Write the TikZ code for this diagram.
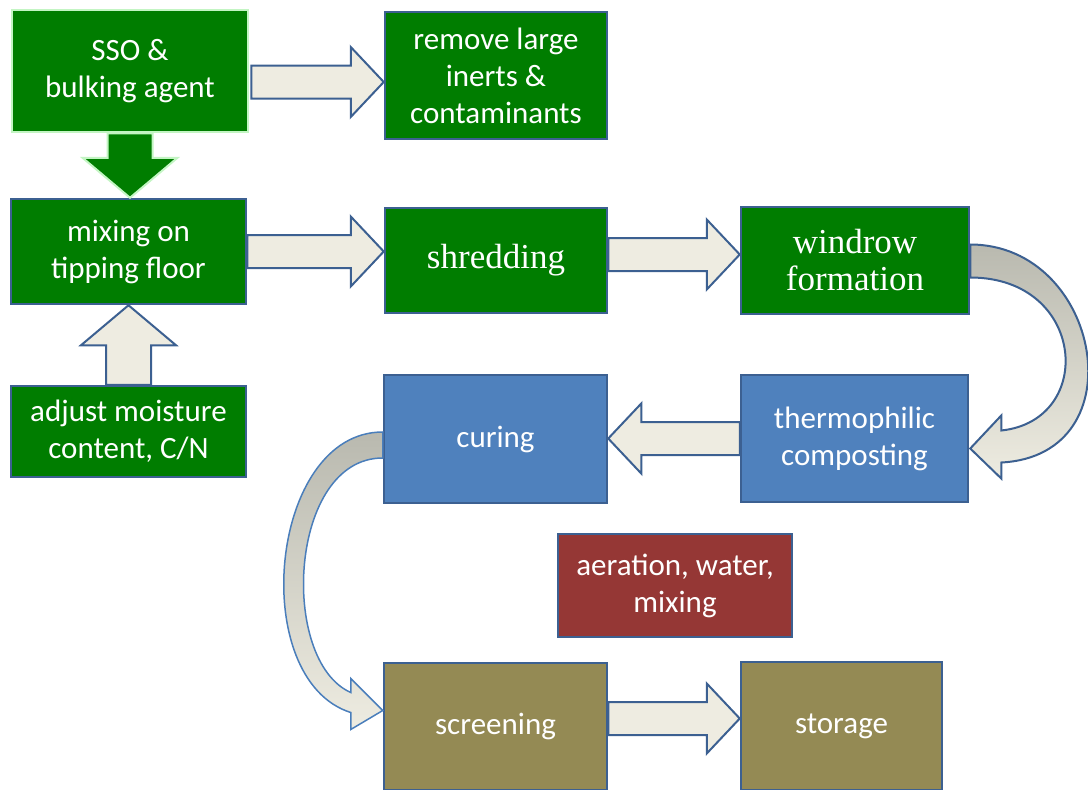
\documentclass[tikz,border=0pt]{standalone}
\usepackage{fontspec}
\newfontfamily\boxfont{Carlito}
\newfontfamily\seriffont{Liberation Serif}
\usetikzlibrary{calc}

\definecolor{boxgreen}{RGB}{0,125,0}
\definecolor{ssoedge}{RGB}{195,245,195}
\definecolor{linkblue}{RGB}{60,96,145}
\definecolor{ribbonblue}{RGB}{74,126,187}
\definecolor{arrowfill}{RGB}{238,236,225}
\definecolor{ribbongray}{RGB}{185,185,175}
\definecolor{curingblue}{RGB}{79,129,189}
\definecolor{aerred}{RGB}{149,55,53}
\definecolor{olivebox}{RGB}{148,138,84}

% block arrow sizes (half shaft, half head, head length)
\def\shafthalf{16.5pt}
\def\headhalf{35pt}
\def\headlen{33pt}

\tikzset{
  box/.style={draw=linkblue, line width=2.5pt, fill=boxgreen, text=white,
    align=center, inner sep=0pt, font={\boxfont\fontsize{31}{37}\selectfont}},
  serifbox/.style={box, font={\seriffont\fontsize{35}{37}\selectfont}},
  blockarrow/.style={draw=linkblue, fill=arrowfill, line width=2pt},
  greenarrow/.style={draw=ssoedge, fill=boxgreen},
  wide arrow/.code={\def\shafthalf{22.5pt}\def\headhalf{47.5pt}\def\headlen{40pt}},
  ribbon/.style={draw=linkblue, line width=2pt, top color=ribbongray, bottom color=arrowfill}
}

\newcommand{\flowarrow}[3][]{%
  \draw[blockarrow,#1] let \p1=(#2), \p2=(#3),
    \n1={veclen(\x2-\x1,\y2-\y1)}, \n2={atan2(\y2-\y1,\x2-\x1)} in
    [shift={(\p1)}, rotate={\n2+0}]
    (0pt,\shafthalf) -- (\n1-\headlen,\shafthalf) -- (\n1-\headlen,\headhalf)
    -- (\n1+0pt,0pt) -- (\n1-\headlen,-\headhalf) -- (\n1-\headlen,-\shafthalf)
    -- (0pt,-\shafthalf) -- cycle;}

\begin{document}
\begin{tikzpicture}[x=1pt, y=-1pt]
	\useasboundingbox (0,0) rectangle (1088,790);

	\node[box, draw=ssoedge, minimum width=236pt, minimum height=122pt] (sso) at (130, 71) {SSO \&\\ bulking agent};
	\node[box, minimum width=222pt, minimum height=127pt] (remove) at (496, 75.5) {remove large\\ inerts \&\\ contaminants};
	\node[box, minimum width=235pt, minimum height=105pt] (mixing) at (128.5, 251.5) {mixing on\\ tipping floor};
	\node[serifbox, minimum width=222pt, minimum height=105pt] (shred) at (496, 260.5) {shredding};
	\node[serifbox, minimum width=228pt, minimum height=107pt] (windrow) at (855, 260.5) {windrow\\ formation};
	\node[box, minimum width=235pt, minimum height=91pt] (adjust) at (128.5, 431.5) {adjust moisture\\ content, C/N};
	\node[box, fill=curingblue, minimum width=223pt, minimum height=128pt] (curing) at (495.5, 439) {curing};
	\node[box, fill=curingblue, minimum width=227pt, minimum height=127pt] (thermo) at (854.5, 438.5) {thermophilic\\ composting};
	\node[box, fill=aerred, minimum width=234pt, minimum height=103pt] (aeration) at (675, 585.5) {aeration, water,\\ mixing};
	\node[box, fill=olivebox, minimum width=223pt, minimum height=127pt] (screening) at (495.5, 726.5) {screening};
	\node[box, fill=olivebox, minimum width=201pt, minimum height=128pt] (storage) at (841.5, 726) {storage};

	\coordinate (a1) at ($(sso.east)+(2,11)$);
	\coordinate (a3) at ($(shred.east)+(0,-6)$);
	\coordinate (a5) at ($(screening.east)+(0,-8)$);

	\flowarrow{a1}{a1 -| remove.west}
	\flowarrow{mixing.east}{mixing.east -| shred.west}
	\flowarrow{a3}{a3 -| windrow.west}
	\flowarrow{thermo.west}{thermo.west -| curing.east}
	\flowarrow{a5}{a5 -| storage.west}
	\flowarrow[greenarrow, wide arrow]{sso.south}{sso.south |- mixing.north}
	\flowarrow[wide arrow]{adjust.north}{mixing.south}

	% windrow -> thermophilic
	\draw[ribbon] ($(windrow.east)+(0,-16)$) .. controls +(131,0) and +(138,-7) .. ($(thermo.east)+(32,24)$)
		-- ++(0,16) -- ($(thermo.east)+(1,10)$) -- ++(31,-33) -- ++(0,15)
		.. controls +(95,-10) and +(116,0) .. ($(windrow.east)+(0,17)$) -- cycle;
	% curing -> screening
	\draw[ribbon, draw=ribbonblue, line width=1.5pt] ($(curing.west)+(0,-7)$) .. controls +(-114,0) and +(-104,-33) .. ($(screening.west)+(-32,-14)$)
		-- ++(0,17) -- ($(screening.west)+(0,-16)$) -- ++(-32,-32) -- ++(0,14)
		.. controls +(-72,-32) and +(-94,0) .. ($(curing.west)+(0,19)$) -- cycle;
\end{tikzpicture}
\end{document}
